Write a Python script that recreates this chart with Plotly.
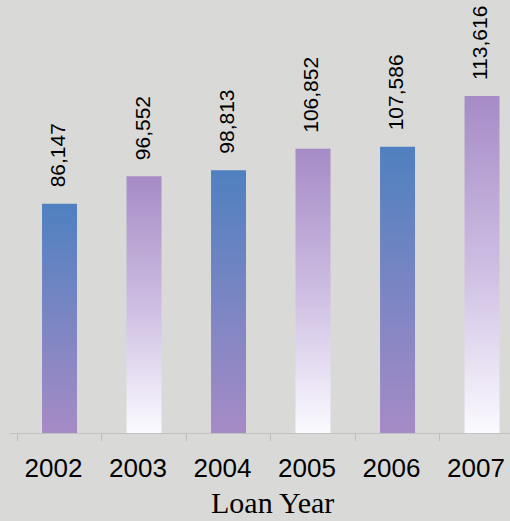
import plotly.graph_objects as go

# ---- data ----
years = ["2002", "2003", "2004", "2005", "2006", "2007"]
bar_heights = [86147, 96552, 98813, 106852, 107586, 126700]   # drawn bar heights
label_values = [86147, 96552, 98813, 106852, 107586, 113616]  # printed labels
axis_title = "Loan Year"

# ---- styles ----
bg = "#d9d9d7"
grad_a = [[0, "#a68bc6"], [1, "#4f80c0"]]       # blue top -> purple bottom
grad_b = [[0, "#fbfaff"], [0.5, "#cdbde2"], [1, "#a68bc6"]]  # purple top -> white bottom
half_w = 0.207

fig = go.Figure()
for i, (yr, h) in enumerate(zip(years, bar_heights)):
    xs = [i - half_w, i + half_w, i + half_w, i - half_w, i - half_w]
    ys = [0, 0, h, h, 0]
    fig.add_trace(go.Scatter(
        x=xs, y=ys, mode="lines", fill="toself",
        line=dict(width=0, color="rgba(0,0,0,0)"),
        fillgradient=dict(type="vertical", colorscale=grad_a if i % 2 == 0 else grad_b),
        hoverinfo="skip", showlegend=False,
    ))
    fig.add_annotation(
        x=i, y=h, text=f"{label_values[i]:,}", textangle=-90,
        showarrow=False, xanchor="center", yanchor="bottom", yshift=14, xshift=-2,
        font=dict(family="Liberation Sans", size=21, color="#000000"),
    )

fig.add_annotation(
    xref="paper", yref="paper", x=0.524, y=0, xanchor="center", yanchor="top",
    yshift=-51, text=axis_title, showarrow=False,
    font=dict(family="Liberation Serif", size=30, color="#000000"),
)

px_per_unit = 0.00266
fig.update_layout(
    width=510, height=521,
    margin=dict(l=10, r=0, t=0, b=88),
    paper_bgcolor=bg, plot_bgcolor=bg,
    xaxis=dict(
        range=[-0.586, 5.331], tickvals=list(range(len(years))), ticktext=years,
        ticks="", showgrid=False, zeroline=False, automargin=False,
        showline=True, linecolor="#c2c2c2", linewidth=1,
        minor=dict(tickvals=[i - 0.5 for i in range(len(years))], ticks="outside",
                   ticklen=7, tickcolor="#bdbdbd", tickwidth=1, showgrid=False),
        tickfont=dict(family="Liberation Sans", size=26, color="#000000"),
        ticklabelstandoff=12, ticklabelshift=-6,
    ),
    yaxis=dict(range=[0, 433 / px_per_unit], visible=False, showgrid=False,
               zeroline=False, automargin=False),
)

fig.write_html("out.html")
